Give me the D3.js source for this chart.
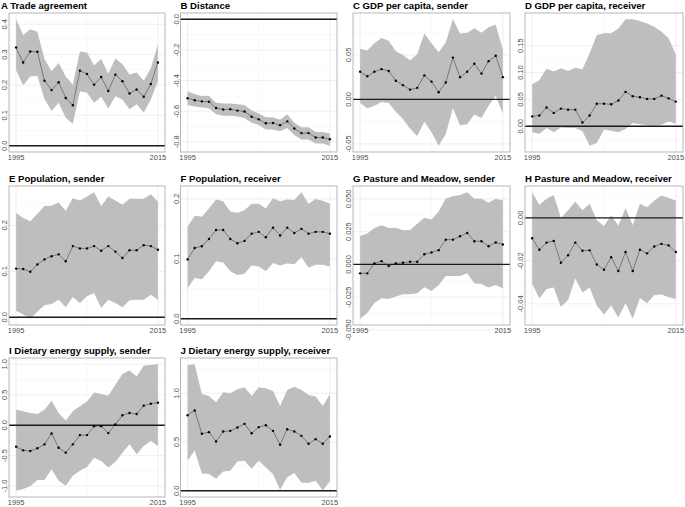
<!DOCTYPE html>
<html>
<head>
<meta charset="utf-8">
<script src="https://cdn.jsdelivr.net/npm/d3@7"></script>
<style>
body { margin: 0; background: #fff; }
text { font-family: "Liberation Sans", Arial, sans-serif; }
</style>
</head>
<body>
<svg width="685" height="507"></svg>
<script>
var years = [1995, 1996, 1997, 1998, 1999, 2000, 2001, 2002, 2003, 2004, 2005,
             2006, 2007, 2008, 2009, 2010, 2011, 2012, 2013, 2014, 2015];

// A Trade agreement
var tradeEst = [0.323, 0.274, 0.310, 0.309, 0.214, 0.183, 0.209, 0.157, 0.133, 0.247, 0.236, 0.201, 0.226, 0.180, 0.234, 0.212, 0.172, 0.185, 0.161, 0.203, 0.274];
var tradeHi  = [0.416, 0.364, 0.383, 0.375, 0.285, 0.245, 0.272, 0.228, 0.201, 0.310, 0.307, 0.264, 0.285, 0.237, 0.287, 0.268, 0.234, 0.241, 0.214, 0.255, 0.334];
var tradeLo  = [0.248, 0.199, 0.228, 0.230, 0.154, 0.114, 0.141, 0.092, 0.071, 0.179, 0.174, 0.141, 0.161, 0.122, 0.163, 0.152, 0.120, 0.136, 0.109, 0.152, 0.212];

// B Distance
var distEst = [-0.515, -0.528, -0.536, -0.538, -0.579, -0.589, -0.587, -0.596, -0.602, -0.636, -0.653, -0.679, -0.677, -0.691, -0.666, -0.713, -0.743, -0.743, -0.772, -0.772, -0.783];
var distHi  = [-0.470, -0.490, -0.500, -0.500, -0.545, -0.550, -0.550, -0.555, -0.560, -0.595, -0.615, -0.640, -0.640, -0.655, -0.620, -0.675, -0.705, -0.705, -0.735, -0.735, -0.745];
var distLo  = [-0.560, -0.570, -0.575, -0.580, -0.620, -0.630, -0.630, -0.635, -0.645, -0.675, -0.690, -0.720, -0.720, -0.730, -0.710, -0.755, -0.785, -0.785, -0.810, -0.810, -0.825];

// C GDP per capita, sender
var gdpSEst = [0.031, 0.026, 0.031, 0.034, 0.032, 0.021, 0.016, 0.011, 0.013, 0.027, 0.020, 0.008, 0.019, 0.047, 0.025, 0.031, 0.040, 0.029, 0.043, 0.049, 0.025];
var gdpSHi  = [0.057, 0.055, 0.063, 0.069, 0.066, 0.054, 0.050, 0.044, 0.051, 0.074, 0.063, 0.053, 0.064, 0.090, 0.074, 0.075, 0.080, 0.075, 0.081, 0.084, 0.056];
var gdpSLo  = [-0.004, -0.010, -0.007, -0.003, -0.004, -0.014, -0.022, -0.033, -0.041, -0.025, -0.037, -0.052, -0.039, -0.010, -0.029, -0.028, -0.017, -0.021, -0.007, 0.004, -0.016];

// D GDP per capita, receiver
var gdpREst = [0.0185, 0.020, 0.035, 0.025, 0.033, 0.031, 0.031, 0.007, 0.020, 0.042, 0.042, 0.041, 0.048, 0.064, 0.056, 0.054, 0.051, 0.051, 0.057, 0.052, 0.046];
var gdpRHi  = [0.078, 0.086, 0.107, 0.102, 0.108, 0.103, 0.109, 0.106, 0.136, 0.170, 0.173, 0.173, 0.182, 0.199, 0.199, 0.196, 0.191, 0.185, 0.176, 0.164, 0.133];
var gdpRLo  = [-0.011, -0.014, -0.003, -0.011, -0.002, -0.003, -0.003, -0.009, -0.036, -0.031, -0.006, -0.008, -0.011, -0.005, 0.006, 0.004, 0.002, 0.001, 0.003, 0.009, 0.005];

// E Population, sender
var popSEst = [0.106, 0.105, 0.099, 0.115, 0.126, 0.133, 0.137, 0.122, 0.155, 0.150, 0.150, 0.155, 0.145, 0.155, 0.143, 0.129, 0.146, 0.146, 0.157, 0.155, 0.147];
var popSHi  = [0.227, 0.216, 0.209, 0.225, 0.242, 0.243, 0.250, 0.232, 0.259, 0.254, 0.263, 0.272, 0.242, 0.263, 0.254, 0.245, 0.258, 0.258, 0.258, 0.268, 0.252];
var popSLo  = [0.014, 0.006, -0.003, 0.012, 0.026, 0.029, 0.038, 0.022, 0.044, 0.031, 0.046, 0.053, 0.020, 0.038, 0.031, 0.022, 0.037, 0.038, 0.038, 0.049, 0.038];

// F Population, receiver
var popREst = [0.099, 0.118, 0.121, 0.133, 0.148, 0.148, 0.133, 0.126, 0.130, 0.142, 0.145, 0.136, 0.152, 0.139, 0.152, 0.143, 0.150, 0.142, 0.145, 0.145, 0.142];
var popRHi  = [0.154, 0.172, 0.170, 0.184, 0.199, 0.196, 0.179, 0.177, 0.181, 0.192, 0.192, 0.184, 0.201, 0.196, 0.199, 0.198, 0.211, 0.192, 0.200, 0.197, 0.192];
var popRLo  = [0.051, 0.068, 0.066, 0.079, 0.096, 0.094, 0.079, 0.073, 0.075, 0.089, 0.087, 0.079, 0.093, 0.089, 0.092, 0.091, 0.103, 0.085, 0.090, 0.090, 0.087];

// G Pasture and Meadow, sender
var pasSEst = [-0.0068, -0.0068, 0.0008, 0.0025, -0.0013, 0.0008, 0.0013, 0.0020, 0.0020, 0.0078, 0.0091, 0.0109, 0.0189, 0.0189, 0.0215, 0.0240, 0.0177, 0.0177, 0.0139, 0.0167, 0.0152];
var pasSHi  = [0.0217, 0.0235, 0.0278, 0.0298, 0.0278, 0.0280, 0.0260, 0.0263, 0.0310, 0.0356, 0.0343, 0.0404, 0.0500, 0.0520, 0.0530, 0.0550, 0.0500, 0.0500, 0.0470, 0.0500, 0.0487];
var pasSLo  = [-0.0414, -0.0371, -0.0295, -0.0258, -0.0263, -0.0245, -0.0227, -0.0227, -0.0220, -0.0174, -0.0202, -0.0157, -0.0088, -0.0088, -0.0088, -0.0068, -0.0144, -0.0149, -0.0177, -0.0157, -0.0182];

// H Pasture and Meadow, receiver
var pasREst = [-0.0095, -0.0148, -0.0115, -0.0107, -0.0209, -0.0174, -0.0115, -0.0153, -0.0151, -0.0217, -0.0241, -0.0183, -0.0247, -0.0159, -0.0247, -0.0148, -0.0165, -0.0133, -0.0121, -0.0128, -0.0159];
var pasRHi  = [0.0119, 0.0061, 0.0089, 0.0107, 0.0000, 0.0035, 0.0076, 0.0035, 0.0066, -0.0011, -0.0038, 0.0012, -0.0037, 0.0046, -0.0034, 0.0066, 0.0050, 0.0081, 0.0104, 0.0092, 0.0081];
var pasRLo  = [-0.0308, -0.0374, -0.0331, -0.0324, -0.0415, -0.0382, -0.0282, -0.0347, -0.0324, -0.0408, -0.0449, -0.0408, -0.0464, -0.0397, -0.0469, -0.0373, -0.0397, -0.0359, -0.0357, -0.0369, -0.0377];

// I Dietary energy supply, sender
var desSEst = [-0.353, -0.413, -0.424, -0.380, -0.315, -0.136, -0.370, -0.451, -0.315, -0.163, -0.163, -0.016, -0.016, -0.130, 0.011, 0.163, 0.201, 0.185, 0.321, 0.353, 0.370];
var desSHi  = [0.255, 0.228, 0.201, 0.185, 0.255, 0.402, 0.201, 0.076, 0.228, 0.310, 0.391, 0.538, 0.511, 0.484, 0.663, 0.842, 0.897, 0.799, 0.978, 0.989, 1.000];
var desSLo  = [-1.076, -1.049, -1.005, -0.902, -0.902, -0.723, -0.913, -0.995, -0.832, -0.750, -0.685, -0.533, -0.587, -0.696, -0.603, -0.451, -0.315, -0.478, -0.342, -0.261, -0.342];

// J Dietary energy supply, receiver
var desREst = [0.775, 0.823, 0.584, 0.601, 0.505, 0.608, 0.614, 0.648, 0.686, 0.590, 0.652, 0.672, 0.614, 0.471, 0.631, 0.608, 0.563, 0.481, 0.529, 0.481, 0.556];
var desRHi  = [1.290, 1.297, 0.993, 0.973, 0.908, 1.010, 1.000, 1.041, 1.061, 0.973, 1.061, 1.051, 1.024, 0.870, 1.034, 1.068, 1.034, 0.983, 0.966, 0.870, 0.990];
var desRLo  = [0.307, 0.413, 0.177, 0.171, 0.123, 0.198, 0.205, 0.300, 0.307, 0.225, 0.307, 0.239, 0.171, 0.010, 0.137, 0.181, 0.085, 0.078, 0.102, 0.003, 0.096];

var titles = ["A Trade agreement", "B Distance", "C GDP per capita, sender", "D GDP per capita, receiver",
              "E Population, sender", "F Population, receiver", "G Pasture and Meadow, sender",
              "H Pasture and Meadow, receiver", "I Dietary energy supply, sender", "J Dietary energy supply, receiver"];

var yTickLabels = [
  ["0.0", "0.1", "0.2", "0.3", "0.4"],
  ["-0.8", "-0.6", "-0.4", "-0.2", "0.0"],
  ["-0.05", "0.00", "0.05"],
  ["0.00", "0.05", "0.10", "0.15"],
  ["0.0", "0.1", "0.2"],
  ["0.0", "0.1", "0.2"],
  ["-0.050", "-0.025", "0.000", "0.025", "0.050"],
  ["-0.04", "-0.02", "0.00"],
  ["-1.0", "-0.5", "0.0", "0.5", "1.0"],
  ["0.0", "0.5", "1.0"]
];
var xTickLabels = ["1995", "2015"];

var panels = [
  {est: tradeEst, lo: tradeLo, hi: tradeHi},
  {est: distEst, lo: distLo, hi: distHi},
  {est: gdpSEst, lo: gdpSLo, hi: gdpSHi},
  {est: gdpREst, lo: gdpRLo, hi: gdpRHi},
  {est: popSEst, lo: popSLo, hi: popSHi},
  {est: popREst, lo: popRLo, hi: popRHi},
  {est: pasSEst, lo: pasSLo, hi: pasSHi},
  {est: pasREst, lo: pasRLo, hi: pasRHi},
  {est: desSEst, lo: desSLo, hi: desSHi},
  {est: desREst, lo: desRLo, hi: desRHi}
];

var svg = d3.select("svg");

var colLeft = [9, 180.5, 353, 525],
    colRight = [165, 337, 510, 683],
    rowTop = [13, 186, 358],
    panelH = 139;

panels.forEach(function(p, i) {
  var col = i % 4, row = Math.floor(i / 4);
  var left = colLeft[col], right = colRight[col],
      top = rowTop[row], bottom = top + panelH;

  var data = years.map(function(yr, k) {
    return {year: yr, est: p.est[k], lo: p.lo[k], hi: p.hi[k]};
  });

  var x = d3.scaleLinear()
      .domain([years[0] - 1, years[years.length - 1] + 1])
      .range([left, right]);

  var lo = Math.min(0, d3.min(p.lo)), hi = Math.max(0, d3.max(p.hi)),
      pad = (hi - lo) * 0.05;
  var y = d3.scaleLinear().domain([lo - pad, hi + pad]).range([bottom, top]);

  var ticks = yTickLabels[i].map(function(t) { return +t; });
  var step = ticks[1] - ticks[0];
  var minor = [];
  for (var t = ticks[0] - step / 2; t < ticks[ticks.length - 1] + step; t += step) {
    if (t > y.domain()[0] && t < y.domain()[1]) minor.push(t);
  }

  var g = svg.append("g");

  // grid
  g.selectAll(".minor")
    .data(minor)
    .enter().append("line")
      .attr("x1", left).attr("x2", right)
      .attr("y1", function(d) { return y(d); })
      .attr("y2", function(d) { return y(d); })
      .attr("stroke", "#f3f3f3").attr("stroke-width", 0.5);
  g.selectAll(".major")
    .data(ticks)
    .enter().append("line")
      .attr("x1", left).attr("x2", right)
      .attr("y1", function(d) { return y(d); })
      .attr("y2", function(d) { return y(d); })
      .attr("stroke", "#e8e8e8").attr("stroke-width", 0.7);
  g.selectAll(".vgrid")
    .data([1995, 2005, 2015])
    .enter().append("line")
      .attr("x1", function(d) { return x(d); })
      .attr("x2", function(d) { return x(d); })
      .attr("y1", top).attr("y2", bottom)
      .attr("stroke", function(d) { return d === 2005 ? "#f0f0f0" : "#e8e8e8"; })
      .attr("stroke-width", function(d) { return d === 2005 ? 0.5 : 0.7; });

  // ribbon
  var area = d3.area()
      .x(function(d) { return x(d.year); })
      .y0(function(d) { return y(d.lo); })
      .y1(function(d) { return y(d.hi); });
  g.append("path")
      .datum(data)
      .attr("d", area)
      .attr("fill", "#bebebe");

  // zero line
  g.append("line")
      .attr("x1", left).attr("x2", right)
      .attr("y1", y(0)).attr("y2", y(0))
      .attr("stroke", "#1a1a1a").attr("stroke-width", 1.4);

  // estimates
  var line = d3.line()
      .x(function(d) { return x(d.year); })
      .y(function(d) { return y(d.est); });
  g.append("path")
      .datum(data)
      .attr("d", line)
      .attr("fill", "none")
      .attr("stroke", "#333")
      .attr("stroke-width", 0.5);
  g.selectAll(".pt")
    .data(data)
    .enter().append("circle")
      .attr("cx", function(d) { return x(d.year); })
      .attr("cy", function(d) { return y(d.est); })
      .attr("r", 1.2)
      .attr("fill", "#000");

  // border
  g.append("rect")
      .attr("x", left).attr("y", top)
      .attr("width", right - left).attr("height", bottom - top)
      .attr("fill", "none")
      .attr("stroke", "#a6a6a6")
      .attr("stroke-width", 0.8);

  // y tick labels
  g.selectAll(".ylab")
    .data(yTickLabels[i])
    .enter().append("text")
      .attr("transform", function(d) { return "translate(" + (left - 2) + "," + y(+d) + ") rotate(-90)"; })
      .attr("text-anchor", "middle")
      .attr("font-size", "7.5px")
      .attr("fill", "#4d4d4d")
      .text(function(d) { return d; });

  // x tick labels
  g.selectAll(".xlab")
    .data(xTickLabels)
    .enter().append("text")
      .attr("x", function(d) { return x(+d); })
      .attr("y", bottom + 7.5)
      .attr("text-anchor", "middle")
      .attr("font-size", "7.5px")
      .attr("fill", "#4d4d4d")
      .text(function(d) { return d; });

  // title
  g.append("text")
      .attr("x", i === 0 ? 1 : left)
      .attr("y", top - 4.5)
      .attr("font-size", "9.6px")
      .attr("font-weight", "bold")
      .attr("fill", "#000")
      .text(titles[i]);
});
</script>
</body>
</html>
